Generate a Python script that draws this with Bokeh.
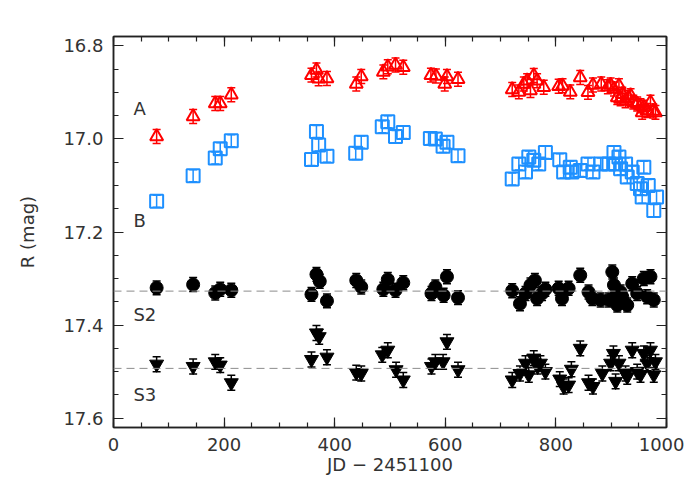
from bokeh.plotting import figure
from bokeh.models import (Range1d, LinearAxis, SingleIntervalTicker, PrintfTickFormatter,
                          ColumnDataSource, Whisker, TeeHead, Span, Label)
from bokeh.embed import file_html
from bokeh.resources import INLINE

# ---------------- data ----------------
a_jd = [78, 144, 184, 193, 213, 358, 367, 371, 386, 439, 448, 488, 496, 510, 524,
        574, 583, 599, 603, 623, 721, 733, 742, 748, 754, 760, 766, 778, 805, 812, 826,
        844, 858, 867, 882, 894, 899, 905, 911, 914, 917, 920, 926, 931, 935, 940, 947,
        953, 956, 959, 965, 971, 976, 980]
a_mag = [16.995, 16.952, 16.924, 16.924, 16.905, 16.863, 16.852, 16.871, 16.870, 16.882, 16.866,
         16.856, 16.845, 16.841, 16.846, 16.863, 16.865, 16.882, 16.866, 16.872,
         16.894, 16.899, 16.882, 16.875, 16.896, 16.864, 16.875, 16.889, 16.887, 16.886, 16.899,
         16.868, 16.900, 16.884, 16.882, 16.888, 16.884, 16.893, 16.911, 16.886, 16.914, 16.904,
         16.918, 16.911, 16.907, 16.921, 16.925, 16.929, 16.943, 16.932, 16.939, 16.921, 16.940, 16.943]

b_jd = [78, 144, 184, 193, 213, 358, 367, 371, 386, 438, 448, 486, 496, 510, 524,
        573, 582, 596, 603, 623, 721, 733, 745, 751, 760, 769, 781, 807, 814, 826, 829,
        844, 858, 867, 881, 896, 905, 908, 914, 917, 926, 929, 938, 947, 953, 956, 959,
        967, 977, 982]
b_mag = [17.134, 17.079, 17.041, 17.021, 17.004, 17.044, 16.984, 17.013, 17.037, 17.031, 17.007,
         16.974, 16.963, 16.995, 16.986, 16.999, 17.000, 17.016, 17.007, 17.036,
         17.086, 17.054, 17.071, 17.039, 17.046, 17.054, 17.029, 17.045, 17.071, 17.061, 17.071,
         17.068, 17.054, 17.071, 17.054, 17.054, 17.029, 17.054, 17.039, 17.064, 17.054, 17.082,
         17.071, 17.096, 17.107, 17.125, 17.061, 17.100, 17.154, 17.125]

s2_jd = [78, 144, 184, 193, 213, 358, 367, 373, 386, 439, 448, 488, 496, 510, 524,
         575, 582, 597, 603, 623, 721, 735, 745, 754, 762, 766, 775, 781, 805, 811, 823,
         844, 859, 866, 881, 896, 902, 905, 908, 911, 917, 920, 929, 938, 947, 959, 965, 971, 977]
s2_mag = [17.320, 17.313, 17.331, 17.323, 17.325, 17.334, 17.291, 17.306, 17.348, 17.304, 17.318,
          17.323, 17.302, 17.325, 17.309, 17.332, 17.318, 17.336, 17.296, 17.341,
          17.326, 17.354, 17.332, 17.314, 17.304, 17.343, 17.332, 17.323, 17.321, 17.343, 17.321,
          17.293, 17.329, 17.343, 17.346, 17.346, 17.286, 17.314, 17.339, 17.357, 17.329, 17.339,
          17.357, 17.311, 17.332, 17.300, 17.339, 17.296, 17.346]

s3_jd = [78, 144, 184, 193, 213, 358, 367, 372, 386, 439, 448, 486, 496, 511, 524,
         575, 582, 596, 603, 623, 721, 735, 745, 751, 760, 767, 772, 781, 807, 814, 823, 828,
         844, 859, 867, 884, 899, 904, 908, 914, 926, 929, 938, 947, 953, 959, 965, 971, 977, 980]
s3_mag = [17.484, 17.489, 17.479, 17.486, 17.524, 17.474, 17.417, 17.425, 17.469, 17.502, 17.504,
          17.464, 17.454, 17.496, 17.518, 17.489, 17.479, 17.479, 17.436, 17.496,
          17.518, 17.504, 17.482, 17.507, 17.471, 17.489, 17.482, 17.500, 17.516, 17.532, 17.529,
          17.495, 17.450, 17.524, 17.532, 17.504, 17.482, 17.461, 17.521, 17.482, 17.504, 17.511,
          17.454, 17.500, 17.507, 17.461, 17.482, 17.454, 17.507, 17.479]

a_err = 0.015
b_err = 0.013
s2_err = 0.015
s3_err = 0.016

s2_level = 17.327
s3_level = 17.493

series_labels = ["A", "B", "S2", "S3"]
label_x = [36, 36, 36, 36]
label_y = [16.935, 17.175, 17.378, 17.549]

FONT = "DejaVu Sans"
FSIZE = "18px"
TXT = "#333333"
RED = "#ff0000"
BLUE = "#1e90ff"
FRAME = "#222222"

# ---------------- figure ----------------
p = figure(width=684, height=484, output_backend="svg", toolbar_location=None,
           x_range=Range1d(0, 1000), y_range=Range1d(17.62, 16.78),
           min_border_left=113, min_border_right=18, min_border_top=36, min_border_bottom=57)
p.xgrid.visible = False
p.ygrid.visible = False
p.background_fill_color = "white"
p.border_fill_color = "white"
p.outline_line_color = FRAME
p.outline_line_width = 1.5


def style_axis(ax, labels=True):
    ax.axis_line_color = FRAME
    ax.axis_line_width = 1.5
    ax.major_tick_line_color = FRAME
    ax.minor_tick_line_color = FRAME
    ax.major_tick_line_width = 1.2
    ax.minor_tick_line_width = 1.2
    ax.major_tick_in = 10
    ax.major_tick_out = 0
    ax.minor_tick_in = 5
    ax.minor_tick_out = 0
    ax.major_label_text_font = FONT
    ax.major_label_text_font_size = FSIZE
    ax.major_label_text_color = TXT if labels else None
    ax.axis_label_text_font = FONT
    ax.axis_label_text_font_size = FSIZE
    ax.axis_label_text_font_style = "normal"
    ax.axis_label_text_color = TXT


xt = SingleIntervalTicker(interval=200, num_minor_ticks=4)
yt = SingleIntervalTicker(interval=0.2, num_minor_ticks=4)

p.xaxis.ticker = xt
p.yaxis.ticker = yt
p.yaxis.formatter = PrintfTickFormatter(format="%.1f")
p.xaxis.axis_label = "JD \u2212 2451100"
p.yaxis.axis_label = "R (mag)"
style_axis(p.xaxis[0])
style_axis(p.yaxis[0])
p.xaxis.major_label_standoff = 10
p.xaxis.axis_label_standoff = 0
p.yaxis.major_label_standoff = 10
p.yaxis.axis_label_standoff = 22

top = LinearAxis(ticker=SingleIntervalTicker(interval=200, num_minor_ticks=4))
right = LinearAxis(ticker=SingleIntervalTicker(interval=0.2, num_minor_ticks=4))
style_axis(top, labels=False)
style_axis(right, labels=False)
p.add_layout(top, "above")
p.add_layout(right, "right")

# reference levels
for lvl in (s2_level, s3_level):
    p.add_layout(Span(location=lvl, dimension="width", line_color="#8c8c8c",
                      line_width=1, line_dash="8 5"))


def errbars(xs, ys, err, color):
    src = ColumnDataSource(dict(x=xs, lo=[v - err for v in ys], hi=[v + err for v in ys]))
    w = Whisker(base="x", lower="lo", upper="hi", source=src, dimension="height",
                line_color=color, line_width=1.5,
                upper_head=TeeHead(size=8, line_color=color, line_width=1.5),
                lower_head=TeeHead(size=8, line_color=color, line_width=1.5))
    p.add_layout(w)


errbars(a_jd, a_mag, a_err, RED)
errbars(b_jd, b_mag, b_err, BLUE)
errbars(s2_jd, s2_mag, s2_err, "black")
errbars(s3_jd, s3_mag, s3_err, "black")

p.scatter(a_jd, a_mag, marker="triangle", size=13, fill_color=None,
          line_color=RED, line_width=2)
p.scatter(b_jd, b_mag, marker="square", size=13, fill_color=None,
          line_color=BLUE, line_width=2)
p.scatter(s2_jd, s2_mag, marker="circle", size=13, fill_color="black", line_color="black")
p.scatter(s3_jd, s3_mag, marker="inverted_triangle", size=14, fill_color="black",
          line_color="black")

for t, lx, ly in zip(series_labels, label_x, label_y):
    p.add_layout(Label(x=lx, y=ly, text=t, text_font=FONT, text_font_size=FSIZE,
                       text_color=TXT, text_align="left", text_baseline="middle"))

open("out.html", "w").write(file_html(p, INLINE))
